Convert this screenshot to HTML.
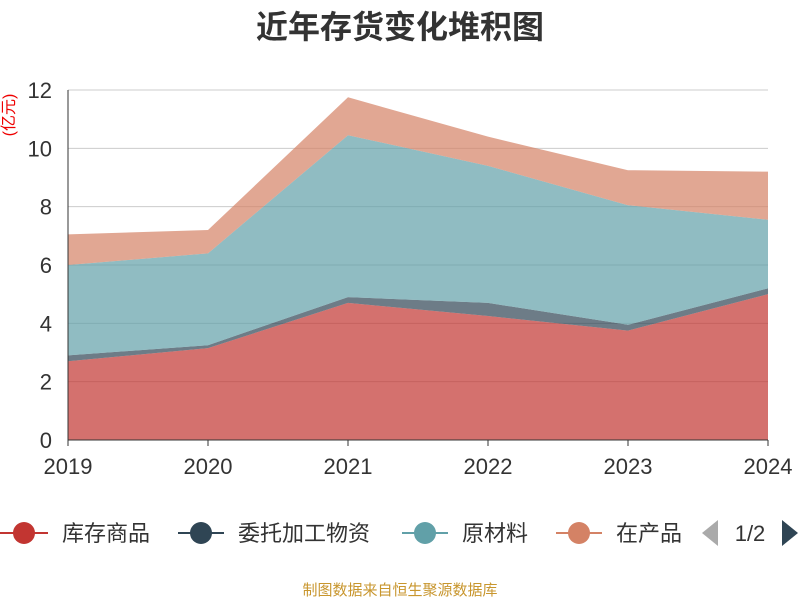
<!DOCTYPE html>
<html><head><meta charset="utf-8"><style>
body{margin:0;background:#fff;}
svg text{font-family:"Liberation Sans","Noto Sans CJK SC",sans-serif;}
</style></head><body>
<svg id="chart" width="800" height="600" xmlns="http://www.w3.org/2000/svg">
<text x="400" y="38" text-anchor="middle" font-size="32" font-weight="bold" fill="#333">近年存货变化堆积图</text>
<text transform="translate(14,115) rotate(-90)" text-anchor="middle" font-size="16" fill="#e00">(亿元)</text>
<g id="grid"></g><g id="areas"></g><g id="axes"></g>
<g>
 <g><line x1="0" y1="533" x2="48" y2="533" stroke="#c23531" stroke-width="2"/><circle cx="24" cy="533" r="11" fill="#c23531"/><text x="62" y="541" font-size="22" fill="#333">库存商品</text></g>
 <g><line x1="178" y1="533" x2="224" y2="533" stroke="#2f4554" stroke-width="2"/><circle cx="201" cy="533" r="11" fill="#2f4554"/><text x="238" y="541" font-size="22" fill="#333">委托加工物资</text></g>
 <g><line x1="402" y1="533" x2="448" y2="533" stroke="#61a0a8" stroke-width="2"/><circle cx="425" cy="533" r="11" fill="#61a0a8"/><text x="462" y="541" font-size="22" fill="#333">原材料</text></g>
 <g><line x1="556" y1="533" x2="602" y2="533" stroke="#d48265" stroke-width="2"/><circle cx="579" cy="533" r="11" fill="#d48265"/><svg x="0" y="0" width="684" height="600"><text x="616" y="541" font-size="22" fill="#333">在产品</text></svg></g>
 <polygon points="702,533 718,520 718,546" fill="#aaa"/>
 <text x="750" y="541" text-anchor="middle" font-size="22" fill="#333">1/2</text>
 <polygon points="798,533 782,520 782,546" fill="#2f4554"/>
</g>
<text x="400" y="595" text-anchor="middle" font-size="15" fill="#c8962e">制图数据来自恒生聚源数据库</text>
</svg>
<script>
const years=["2019","2020","2021","2022","2023","2024"];
const s_kucun=[2.7,3.15,4.7,4.25,3.75,5.0];
const s_weituo=[0.2,0.1,0.2,0.45,0.2,0.2];
const s_yuancailiao=[3.1,3.15,5.55,4.7,4.1,2.35];
const s_zaichanpin=[1.05,0.8,1.3,1.0,1.2,1.65];
const yTicks=[0,2,4,6,8,10,12];
const NS="http://www.w3.org/2000/svg";
const x=i=>68+i*(700/(years.length-1));
const y=v=>440-v*(350/12);
function mk(t,a,p){const e=document.createElementNS(NS,t);for(const k in a)e.setAttribute(k,a[k]);p.appendChild(e);return e;}
const grid=document.getElementById('grid'),axes=document.getElementById('axes'),areas=document.getElementById('areas');
yTicks.forEach(t=>{
 const l=mk('line',{x1:68,x2:768,y1:y(t),y2:y(t),stroke:'#ccc'},grid);
 
 
 const tx=mk('text',{x:52,y:y(t)+8,'text-anchor':'end','font-size':22,fill:'#333'},axes);tx.textContent=t;
 
 
});
const series=[["kucun",s_kucun,"#c23531"],["weituo",s_weituo,"#2f4554"],["yuancailiao",s_yuancailiao,"#61a0a8"],["zaichanpin",s_zaichanpin,"#d48265"]];
let base=years.map(()=>0);
series.forEach(([n,vals,c])=>{
 const top=vals.map((v,i)=>base[i]+v);
 let pts=top.map((v,i)=>x(i)+','+y(v));
 for(let i=years.length-1;i>=0;i--)pts.push(x(i)+','+y(base[i]));
 const p=mk('polygon',{points:pts.join(' '),fill:c,'fill-opacity':0.7},areas);
 
 
 base=top;
});
const ax=mk('line',{x1:68,x2:68,y1:90,y2:440,stroke:'#333'},axes);


const bx=mk('line',{x1:68,x2:768,y1:440,y2:440,stroke:'#333'},axes);


years.forEach((yr,i)=>{
 const tk=mk('line',{x1:x(i),x2:x(i),y1:440,y2:446,stroke:'#333'},axes);
 
 
 const t=mk('text',{x:x(i),y:474,'text-anchor':'middle','font-size':22,fill:'#333'},axes);t.textContent=yr;
 
 
});
</script>
</body></html>
